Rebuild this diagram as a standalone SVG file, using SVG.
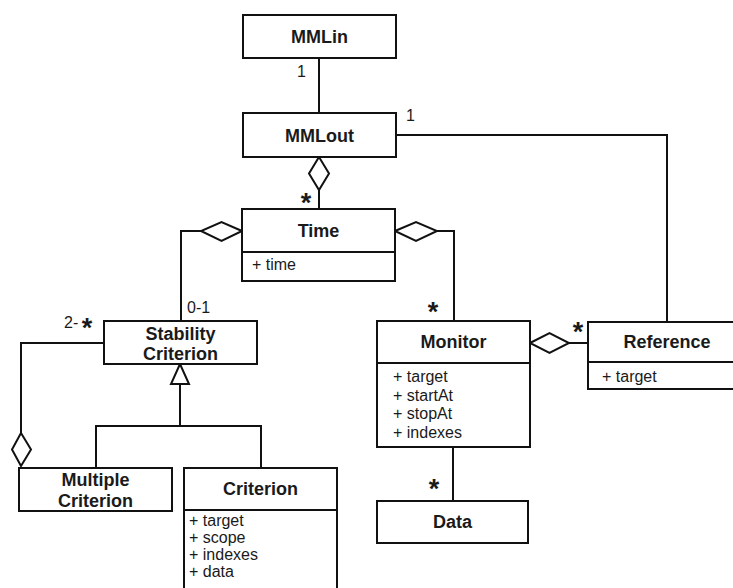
<svg xmlns="http://www.w3.org/2000/svg" width="733" height="588" viewBox="0 0 733 588">
<style>
  rect.box { fill: #fff; stroke: #111; stroke-width: 2; }
  line.div, .conn path, .conn line, .conn polyline { stroke: #111; stroke-width: 2; fill: none; }
  .conn polygon { fill: #fff; stroke: #111; stroke-width: 2; }
  text.t { font-family: "Liberation Sans", Arial, sans-serif; font-size: 18px; font-weight: bold; fill: #1a1a1a; text-anchor: middle; }
  text.a { font-family: "Liberation Sans", Arial, sans-serif; font-size: 16px; fill: #1a1a1a; }
  text.m { font-family: "Liberation Sans", Arial, sans-serif; font-size: 16px; fill: #1a1a1a; }
  text.s { font-family: "Liberation Sans", Arial, sans-serif; font-size: 27px; font-weight: bold; fill: #1a1a1a; text-anchor: middle; }
</style>
<rect width="733" height="588" fill="#fff"/>

<g class="conn" id="connectors">
  <line x1="319" y1="58" x2="319" y2="113"/>
  <polyline points="396,135 667,135 667,322"/>
  <line x1="319" y1="190" x2="319" y2="209"/>
  <polygon points="319,157 329,173.5 319,190 309,173.5"/>
  <polyline points="201,231 181,231 181,321"/>
  <polygon points="242,231 221.5,222 201,231 221.5,241"/>
  <polyline points="437,231 454,231 454,321"/>
  <polygon points="395,231 416,222 437,231 416,241"/>
  <polyline points="104,343 21,343 21,433"/>
  <polygon points="21,433 31,449.5 21,466 12,449.5"/>
  <polyline points="180,384 180,426"/>
  <polyline points="96,468 96,426 261,426 261,468"/>
  <polygon points="180,364 189,384 171,384"/>
  <line x1="569" y1="343" x2="588" y2="343"/>
  <polygon points="530,343 549.5,333 569,343 549.5,353"/>
  <line x1="453" y1="447" x2="453" y2="501"/>
  <text class="m" x="297" y="77">1</text>
  <text class="m" x="406" y="121">1</text>
  <text class="s" x="306" y="212">*</text>
  <text class="m" x="187" y="313">0-1</text>
  <text class="s" x="433" y="321">*</text>
  <text class="m" x="64" y="328">2-</text>
  <text class="s" x="87" y="337">*</text>
  <text class="s" x="578" y="341">*</text>
  <text class="s" x="434" y="498">*</text>
</g>

<g id="MMLin">
  <rect class="box" x="243" y="15" width="153" height="43"/>
  <text class="t" x="319.5" y="43">MMLin</text>
</g>
<g id="MMLout">
  <rect class="box" x="243" y="113" width="153" height="44"/>
  <text class="t" x="319.5" y="142">MMLout</text>
</g>
<g id="Time">
  <rect class="box" x="242" y="209" width="153" height="72"/>
  <line class="div" x1="242" y1="252" x2="395" y2="252"/>
  <text class="t" x="318.5" y="237">Time</text>
  <text class="a" x="252" y="270">+ time</text>
</g>
<g id="StabilityCriterion">
  <rect class="box" x="104" y="321" width="153" height="43"/>
  <text class="t" x="180.5" y="340">Stability</text>
  <text class="t" x="180.5" y="360">Criterion</text>
</g>
<g id="MultipleCriterion">
  <rect class="box" x="19" y="468" width="153" height="43"/>
  <text class="t" x="95.5" y="486">Multiple</text>
  <text class="t" x="95.5" y="507">Criterion</text>
</g>
<g id="Criterion">
  <rect class="box" x="184" y="468" width="153" height="130"/>
  <line class="div" x1="184" y1="510" x2="337" y2="510"/>
  <text class="t" x="260.5" y="495">Criterion</text>
  <text class="a" x="189" y="526">+ target</text>
  <text class="a" x="189" y="543">+ scope</text>
  <text class="a" x="189" y="560">+ indexes</text>
  <text class="a" x="189" y="577">+ data</text>
</g>
<g id="Monitor">
  <rect class="box" x="377" y="321" width="153" height="126"/>
  <line class="div" x1="377" y1="363" x2="530" y2="363"/>
  <text class="t" x="453.5" y="348">Monitor</text>
  <text class="a" x="393" y="382">+ target</text>
  <text class="a" x="393" y="400.5">+ startAt</text>
  <text class="a" x="393" y="419">+ stopAt</text>
  <text class="a" x="393" y="437.5">+ indexes</text>
</g>
<g id="Reference">
  <rect class="box" x="588" y="322" width="152" height="67"/>
  <line class="div" x1="588" y1="362" x2="740" y2="362"/>
  <text class="t" x="667" y="348">Reference</text>
  <text class="a" x="602" y="382">+ target</text>
</g>
<g id="Data">
  <rect class="box" x="377" y="501" width="151" height="42"/>
  <text class="t" x="452.5" y="528">Data</text>
</g>
</svg>
